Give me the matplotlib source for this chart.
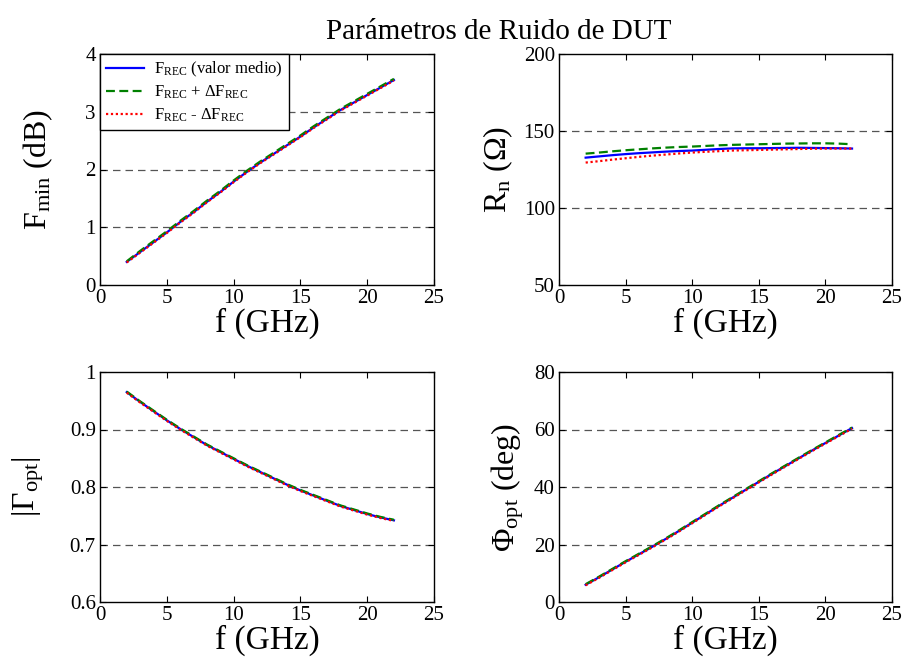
import matplotlib
matplotlib.use('Agg')
import matplotlib.pyplot as plt

plt.rcParams['font.family'] = ['Liberation Serif', 'DejaVu Serif']
plt.rcParams['mathtext.fontset'] = 'custom'
plt.rcParams['mathtext.rm'] = 'Liberation Serif'
plt.rcParams['mathtext.it'] = 'Liberation Serif:italic'
plt.rcParams['mathtext.bf'] = 'Liberation Serif:bold'

# Frequency points (GHz)
freq = [2, 3, 4, 5, 6, 7, 8, 9, 10, 11, 12, 13, 14, 15, 16, 17, 18, 19, 20, 21, 22]

# Fmin (dB)
fmin_mean = [0.40, 0.57, 0.74, 0.91, 1.09, 1.26, 1.44, 1.61, 1.79, 1.96, 2.12,
             2.27, 2.42, 2.57, 2.73, 2.88, 3.03, 3.16, 3.29, 3.42, 3.55]
fmin_plus = [0.41, 0.59, 0.76, 0.93, 1.11, 1.28, 1.46, 1.63, 1.81, 1.98, 2.14,
             2.29, 2.44, 2.59, 2.75, 2.90, 3.05, 3.18, 3.31, 3.44, 3.57]
fmin_minus = [0.39, 0.56, 0.73, 0.90, 1.08, 1.25, 1.43, 1.60, 1.78, 1.95, 2.11,
              2.26, 2.41, 2.56, 2.72, 2.87, 3.02, 3.15, 3.28, 3.41, 3.54]

# Rn (Ohm)
rn_mean = [132.7, 133.5, 134.3, 135.0, 135.6, 136.1, 136.6, 137.0, 137.3, 137.8, 138.3,
           138.7, 138.8, 138.8, 138.9, 139.0, 139.1, 139.0, 138.9, 138.8, 138.6]
rn_plus = [135.3, 136.0, 136.8, 137.5, 138.1, 138.7, 139.2, 139.6, 139.9, 140.3, 140.7,
           141.0, 141.2, 141.4, 141.6, 141.8, 141.9, 142.0, 142.0, 141.8, 141.4]
rn_minus = [129.5, 130.4, 131.4, 132.3, 133.2, 134.0, 134.7, 135.4, 136.0, 136.5, 136.9,
            137.3, 137.5, 137.7, 137.9, 138.1, 138.3, 138.5, 138.6, 138.6, 138.6]

# |Gamma_opt|
gopt_mean = [0.965, 0.948, 0.932, 0.916, 0.901, 0.887, 0.873, 0.861, 0.849, 0.837, 0.826,
             0.815, 0.804, 0.794, 0.785, 0.776, 0.767, 0.760, 0.753, 0.747, 0.742]
gopt_plus = [0.966, 0.949, 0.933, 0.917, 0.902, 0.888, 0.874, 0.862, 0.850, 0.838, 0.827,
             0.816, 0.805, 0.795, 0.786, 0.777, 0.768, 0.761, 0.754, 0.748, 0.743]
gopt_minus = [0.964, 0.947, 0.931, 0.915, 0.900, 0.886, 0.872, 0.860, 0.848, 0.836, 0.825,
              0.814, 0.803, 0.793, 0.784, 0.775, 0.766, 0.759, 0.752, 0.746, 0.741]

# Phi_opt (deg)
phi_mean = [6.0, 8.6, 11.3, 14.0, 16.6, 19.2, 21.9, 24.7, 27.6, 30.5, 33.4,
            36.2, 39.0, 41.8, 44.6, 47.3, 50.0, 52.7, 55.3, 57.9, 60.5]
phi_plus = [6.2, 8.8, 11.5, 14.2, 16.8, 19.4, 22.1, 24.9, 27.8, 30.7, 33.6,
            36.4, 39.2, 42.0, 44.8, 47.5, 50.2, 52.9, 55.5, 58.1, 60.7]
phi_minus = [5.8, 8.4, 11.1, 13.8, 16.4, 19.0, 21.7, 24.5, 27.4, 30.3, 33.2,
             36.0, 38.8, 41.6, 44.4, 47.1, 49.8, 52.5, 55.1, 57.7, 60.3]

labels = [r'F$_{\rm REC}$ (valor medio)',
          r'F$_{\rm REC}$ + $\Delta$F$_{\rm REC}$',
          r'F$_{\rm REC}$ - $\Delta$F$_{\rm REC}$']

panels = [
    (fmin_mean, fmin_plus, fmin_minus, (0, 4), [0, 1, 2, 3, 4], r'F$_{\rm min}$ (dB)'),
    (rn_mean, rn_plus, rn_minus, (50, 200), [50, 100, 150, 200], r'R$_{\rm n}$ ($\Omega$)'),
    (gopt_mean, gopt_plus, gopt_minus, (0.6, 1.0), [0.6, 0.7, 0.8, 0.9, 1.0], r'|$\Gamma_{\rm opt}$|'),
    (phi_mean, phi_plus, phi_minus, (0, 80), [0, 20, 40, 60, 80], r'$\Phi_{\rm opt}$ (deg)'),
]
ytick_fmt = [['0', '1', '2', '3', '4'], ['50', '100', '150', '200'],
             ['0.6', '0.7', '0.8', '0.9', '1'], ['0', '20', '40', '60', '80']]
ylabel_pad = [22, 6, 17, 6]

fig = plt.figure(figsize=(9.05, 6.66), dpi=100)
rects = [
    [100 / 905, 1 - 285 / 666, 334 / 905, 231 / 666],
    [559 / 905, 1 - 285 / 666, 333 / 905, 231 / 666],
    [100 / 905, 1 - 602 / 666, 334 / 905, 230 / 666],
    [559 / 905, 1 - 602 / 666, 333 / 905, 230 / 666],
]

for i, (mean, plus, minus, ylim, yt, ylab) in enumerate(panels):
    ax = fig.add_axes(rects[i])
    ax.plot(freq, mean, color='blue', linestyle='-', linewidth=1.6, label=labels[0])
    ax.plot(freq, plus, color='green', linestyle='--', linewidth=1.6, dashes=(4, 2), label=labels[1])
    ax.plot(freq, minus, color='red', linestyle=':', linewidth=1.6, dashes=(1, 1.2), label=labels[2])
    ax.set_xlim(0, 25)
    ax.set_ylim(*ylim)
    ax.set_xticks([0, 5, 10, 15, 20, 25])
    ax.set_yticks(yt)
    ax.set_yticklabels(ytick_fmt[i])
    for v in yt[1:-1]:
        ax.axhline(v, color='#555555', linestyle='--', dashes=(6, 4), linewidth=0.9, zorder=0)
    ax.tick_params(direction='in', top=True, right=True, labelsize=15, length=4, width=0.8, pad=3)
    for s in ax.spines.values():
        s.set_linewidth(1.0)
    ax.set_xlabel('f (GHz)', fontsize=24, labelpad=0)
    ax.set_ylabel(ylab, fontsize=23, labelpad=ylabel_pad[i])
    if i == 0:
        ax.legend(loc='upper left', fontsize=12, handlelength=2.3, borderaxespad=0,
                  fancybox=False, edgecolor='black', framealpha=1,
                  borderpad=0.35, labelspacing=0.3, handletextpad=0.6)

fig.text(499 / 905, 1 - 32 / 666, 'Parámetros de Ruido de DUT', ha='center', va='center', fontsize=21)

fig.savefig('out.png', dpi=100)
